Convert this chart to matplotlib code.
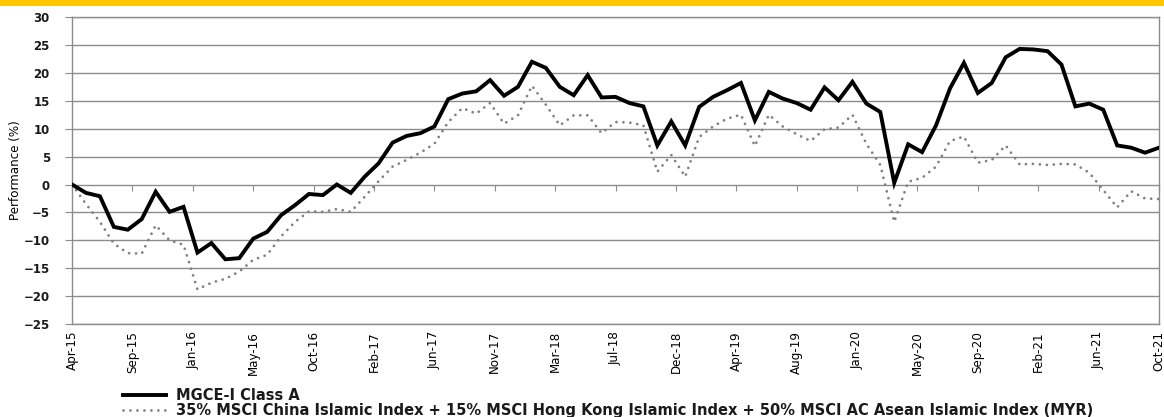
import matplotlib.pyplot as plt
from matplotlib.patches import Rectangle
from matplotlib import font_manager
import numpy as np

# monthly performance (%) from Apr-15 to Oct-21
fund = [0, -1.5, -2.1, -7.6, -8.1, -6.2, -1.3, -4.9, -4.0, -12.2,
        -10.5, -13.4, -13.2, -9.7, -8.5, -5.5, -3.7, -1.7, -1.9, 0.0,
        -1.5, 1.4, 3.8, 7.5, 8.7, 9.2, 10.4, 15.3, 16.3, 16.7,
        18.7, 15.9, 17.5, 22.0, 20.9, 17.5, 16.0, 19.6, 15.6, 15.7,
        14.6, 14.0, 7.0, 11.3, 7.0, 13.9, 15.7, 16.9, 18.2, 11.5,
        16.6, 15.4, 14.6, 13.4, 17.4, 15.1, 18.4, 14.5, 13.0, 0.3,
        7.2, 5.8, 10.6, 17.2, 21.8, 16.4, 18.2, 22.8, 24.3, 24.2,
        23.9, 21.5, 14.0, 14.5, 13.4, 7.0, 6.6, 5.7, 6.6]
bench = [0, -3.5, -6.7, -10.6, -12.3, -12.4, -7.3, -10.0, -10.8, -18.8,
         -17.6, -16.9, -15.6, -13.5, -12.6, -9.3, -6.7, -4.8, -4.9, -4.4,
         -4.9, -2.2, 0.6, 3.2, 4.4, 5.7, 7.3, 11.2, 13.7, 12.7,
         14.6, 10.9, 12.4, 17.7, 14.3, 10.6, 12.4, 12.4, 9.2, 11.2,
         11.1, 10.6, 2.3, 5.3, 1.4, 8.5, 10.4, 11.8, 12.5, 6.9,
         12.5, 10.4, 9.0, 7.8, 9.9, 10.2, 12.5, 7.3, 3.5, -6.7,
         0.5, 1.2, 3.2, 7.8, 8.6, 3.9, 4.4, 7.0, 3.6, 3.7,
         3.5, 3.7, 3.6, 2.1, -1.0, -4.1, -1.2, -2.5, -2.6]
tick_labels = ["Apr-15", "Sep-15", "Jan-16", "May-16", "Oct-16", "Feb-17", "Jun-17",
               "Nov-17", "Mar-18", "Jul-18", "Dec-18", "Apr-19", "Aug-19", "Jan-20",
               "May-20", "Sep-20", "Feb-21", "Jun-21", "Oct-21"]
fund_name = "MGCE-I Class A"
bench_name = ("35% MSCI China Islamic Index + 15% MSCI Hong Kong Islamic Index + "
              "50% MSCI AC Asean Islamic Index (MYR)")

grey = "#8c8c8c"

# narrow face for the date labels if there is one
names = {f.name for f in font_manager.fontManager.ttflist}
if "Liberation Sans Narrow" in names:
    narrow = dict(family="Liberation Sans Narrow", fontsize=10)
else:
    narrow = dict(family="DejaVu Sans", fontsize=8.6)

x = np.arange(len(fund))

fig = plt.figure(figsize=(11.64, 4.17), dpi=100)
ax = fig.add_axes([0.0619, 0.223, 0.9338, 0.736])

ax.plot(x, fund, color="black", lw=2.8, solid_joinstyle="miter", label=fund_name, zorder=3)
ax.plot(x, bench, color="#808080", lw=2.0, linestyle=(0, (0.01, 2.5)),
        dash_capstyle="round", label=bench_name, zorder=2)

ax.set_xlim(0, len(fund) - 1)
ax.set_ylim(-25, 30)
ax.set_yticks(np.arange(-25, 31, 5))
ax.yaxis.grid(True, color=grey, lw=1.0)
ax.set_axisbelow(True)
for s in ax.spines.values():
    s.set_color(grey)
    s.set_linewidth(1.0)

ax.tick_params(axis="y", direction="out", length=5, color=grey, pad=11)
for lab in ax.get_yticklabels():
    lab.set_fontsize(8.5)
    lab.set_fontweight("bold")
    lab.set_color("#1a1a1a")

ticks = np.linspace(0, len(fund) - 1, len(tick_labels))
ax.set_xticks(ticks)
ax.set_xticklabels(tick_labels, rotation=90, **narrow)
ax.tick_params(axis="x", length=0, pad=5)

# tick marks sit on the zero line
zero_ax = ax.secondary_xaxis(0, transform=ax.transData)
zero_ax.set_xticks(ticks)
zero_ax.set_xticklabels([])
zero_ax.tick_params(direction="out", length=4, color=grey)
zero_ax.spines["bottom"].set_visible(False)

ax.set_ylabel("Performance (%)", labelpad=1, **narrow)

fig.add_artist(Rectangle((0, 1 - 6 / 417), 1, 6 / 417, transform=fig.transFigure,
                         color="#FFC600", lw=0))

leg = fig.legend(loc="upper left", bbox_to_anchor=(113 / 1164, 1 - 378 / 417),
                 frameon=False, handlelength=2.9, handletextpad=0.75, labelspacing=0.0,
                 borderpad=0.2, prop={"size": 10.5, "weight": "bold"})
for t in leg.get_texts():
    t.set_color("#1a1a1a")

fig.savefig("out.png", dpi=100)
